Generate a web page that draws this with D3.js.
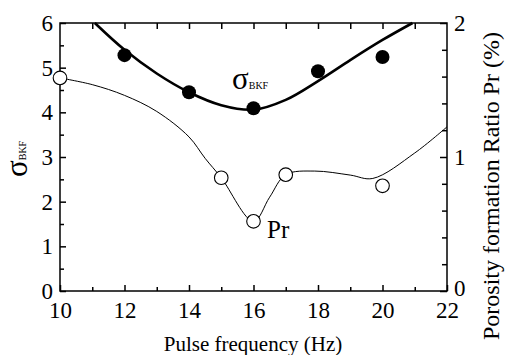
<!DOCTYPE html>
<html>
<head>
<meta charset="UTF-8">
<style>
  body { margin: 0; background: #fff; }
  svg text { font-family: "Liberation Serif", "Times New Roman", serif; fill: #000; }
</style>
</head>
<body>
<svg id="chart" width="505" height="355"></svg>
<script src="https://d3js.org/d3.v7.min.js"></script>
<script>
// measured points
const freq = [12, 14, 16, 18, 20];
const sigma = [5.28, 4.45, 4.09, 4.92, 5.24];
const prFreq = [10, 15, 16, 17, 20];
const pr = [1.59, 0.845, 0.52, 0.868, 0.785];

// fitted curves
const sigmaFitX = [11.08, 12, 13, 14, 15, 16, 17, 18, 19, 20, 20.93];
const sigmaFitY = [6.0, 5.40, 4.87, 4.45, 4.16, 4.06, 4.28, 4.70, 5.17, 5.62, 6.0];
const prFitX = [10, 11, 12, 13, 14, 14.5, 15, 16, 16.5, 17, 17.9, 19, 19.7, 21, 22];
const prFitY = [1.59, 1.54, 1.46, 1.34, 1.15, 0.99, 0.845, 0.52, 0.70, 0.868, 0.895, 0.865, 0.84, 1.03, 1.225];

const xTicks = [10, 12, 14, 16, 18, 20, 22];
const yTicks = [0, 1, 2, 3, 4, 5, 6];
const y2Ticks = [0, 1, 2];

const svg = d3.select("#chart");
const mLeft = 60, mRight = 447, mTop = 23, mBottom = 291;

const x = d3.scaleLinear().domain([10, 22]).range([mLeft, mRight]);
const y = d3.scaleLinear().domain([0, 6]).range([mBottom, mTop]);
const y2 = d3.scaleLinear().domain([0, 2]).range([mBottom, mTop]);

// axes, ticks inward
function styleAxis(g) {
  g.attr("font-family", "Liberation Serif, serif");
  g.select(".domain").remove();
  g.selectAll("line").attr("stroke", "#000").attr("stroke-width", 1.5);
  g.selectAll("text").attr("font-size", 23).attr("fill", "#000");
}

// minor ticks first
svg.append("g").attr("transform", `translate(0,${mBottom})`)
  .call(d3.axisBottom(x).tickValues(d3.range(11, 22, 2)).tickSize(-4).tickFormat(""))
  .call(styleAxis);
svg.append("g").attr("transform", `translate(0,${mTop})`)
  .call(d3.axisTop(x).tickValues(d3.range(11, 22, 1)).tickSize(-6).tickFormat(""))
  .call(styleAxis);
svg.append("g").attr("transform", `translate(${mLeft},0)`)
  .call(d3.axisLeft(y).tickValues(d3.range(0.5, 6, 1)).tickSize(-4).tickFormat(""))
  .call(styleAxis);
svg.append("g").attr("transform", `translate(${mRight},0)`)
  .call(d3.axisRight(y2).tickValues([0.2, 0.4, 0.6, 0.8, 1.2, 1.4, 1.6, 1.8]).tickSize(-5).tickFormat(""))
  .call(styleAxis);

// major ticks
svg.append("g").attr("transform", `translate(0,${mBottom})`)
  .call(d3.axisBottom(x).tickValues(xTicks).tickSize(-6).tickPadding(11).tickFormat(d3.format("d")))
  .call(styleAxis);
svg.append("g").attr("transform", `translate(${mLeft},0)`)
  .call(d3.axisLeft(y).tickValues(yTicks).tickSize(-6).tickPadding(7).tickFormat(d3.format("d")))
  .call(styleAxis);
const rAxis = svg.append("g").attr("transform", `translate(${mRight},0)`)
  .call(d3.axisRight(y2).tickValues(y2Ticks).tickSize(-7).tickPadding(7).tickFormat(d3.format("d")))
  .call(styleAxis);
rAxis.selectAll("text").filter(d => d === 0).attr("dy", "0.2em");

// frame
svg.append("rect")
  .attr("x", mLeft).attr("y", mTop)
  .attr("width", mRight - mLeft).attr("height", mBottom - mTop)
  .attr("fill", "none").attr("stroke", "#000").attr("stroke-width", 1.5);

// curves
const sigmaLine = d3.line().x(d => x(d[0])).y(d => y(d[1])).curve(d3.curveCatmullRom);
svg.append("path")
  .datum(d3.zip(sigmaFitX, sigmaFitY))
  .attr("d", sigmaLine)
  .attr("fill", "none").attr("stroke", "#000").attr("stroke-width", 2.6);

const prLine = d3.line().x(d => x(d[0])).y(d => y2(d[1])).curve(d3.curveCatmullRom);
svg.append("path")
  .datum(d3.zip(prFitX, prFitY))
  .attr("d", prLine)
  .attr("fill", "none").attr("stroke", "#000").attr("stroke-width", 1);

// markers
svg.selectAll(".sig").data(d3.zip(freq, sigma)).join("circle")
  .attr("class", "sig")
  .attr("cx", d => x(d[0])).attr("cy", d => y(d[1]))
  .attr("r", 7).attr("fill", "#000");
svg.selectAll(".pr").data(d3.zip(prFreq, pr)).join("circle")
  .attr("class", "pr")
  .attr("cx", d => x(d[0])).attr("cy", d => y2(d[1]))
  .attr("r", 6.8).attr("fill", "#fff").attr("stroke", "#000").attr("stroke-width", 1.1);

// in-plot labels
const lab = svg.append("text").attr("x", 232).attr("y", 89);
lab.append("tspan").attr("font-size", 31).text("σ");
lab.append("tspan").attr("font-size", 10).text("BKF");
svg.append("text").attr("x", 267).attr("y", 238).attr("font-size", 25).text("Pr");

// axis titles
svg.append("text")
  .attr("x", 253).attr("y", 351)
  .attr("text-anchor", "middle").attr("font-size", 21)
  .text("Pulse frequency (Hz)");

const yl = svg.append("text")
  .attr("transform", "translate(27,177) rotate(-90)");
yl.append("tspan").attr("font-size", 31).text("σ");
yl.append("tspan").attr("font-size", 10).attr("dy", -1).text("BKF");

svg.append("text")
  .attr("transform", "translate(499,186) rotate(-90)")
  .attr("text-anchor", "middle").attr("font-size", 24)
  .text("Porosity formation Ratio Pr (%)");
</script>
</body>
</html>
